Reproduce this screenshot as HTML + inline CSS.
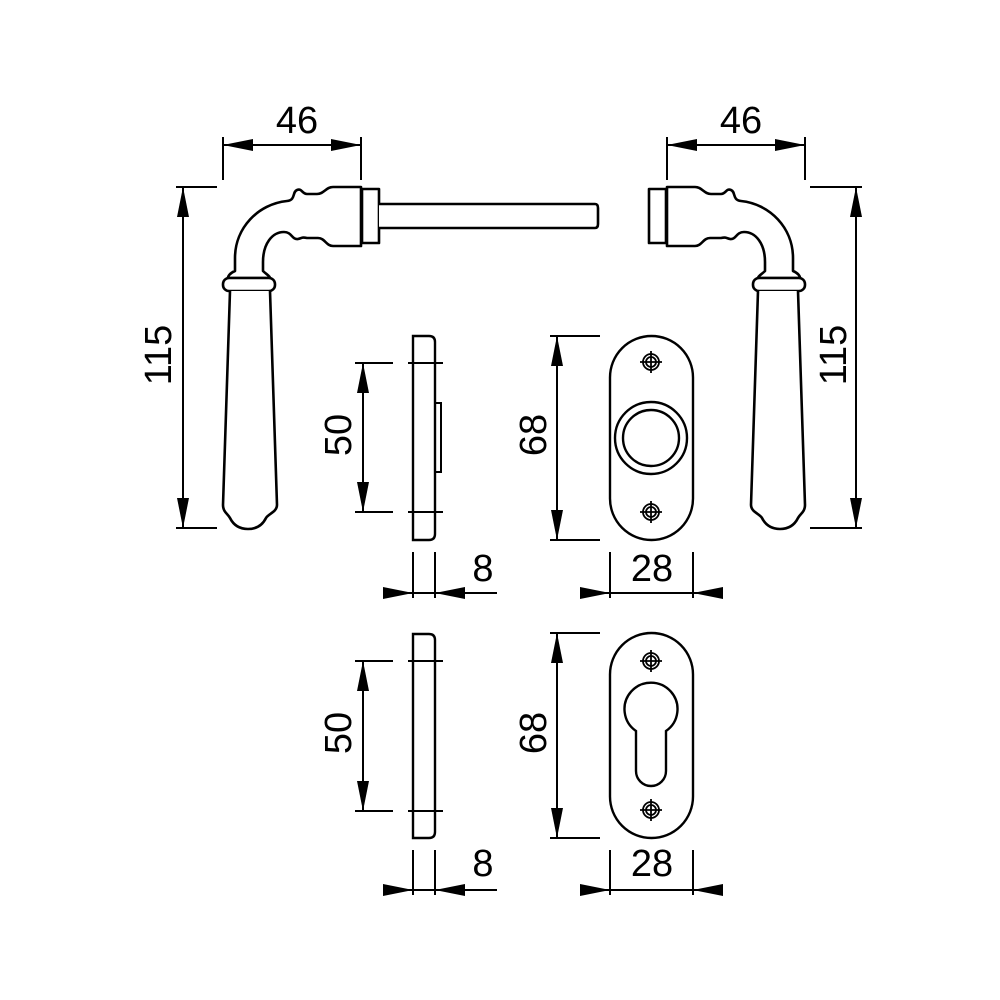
<!DOCTYPE html>
<html><head><style>html,body{margin:0;padding:0;background:#fff}svg{display:block}</style></head>
<body>
<svg width="1000" height="1000" viewBox="0 0 1000 1000" xmlns="http://www.w3.org/2000/svg">
<defs>
<g id="handle" fill="#fff" stroke="#000" stroke-width="2.6" stroke-linejoin="round">
  <path d="M361,187 L333,187 C326,187 324,194 317,194 L307,194 C302,194 302,188 297,190 C292,192 296,200 287,201 C258,204 235,228 235,258 L235,271 C230,273 228,276 228,278 L270,278 C270,276 266,274 263,271 L263,262 C263,244 272,232 284,232 C292,232 292,240 298,239 C302,238 302,237 307,238 L318,238 C325,238 326,246 333,246 L361,246 Z"/>
  <rect x="223" y="278" width="52" height="13" rx="6"/>
  <path d="M230,291 L223,505 C223,512 228,514 230,518 C234,526 240,529 248,529 C256,529 262,526 266,518 C268,514 277,512 277,505 L270,291"/>
  <rect x="362" y="189" width="17" height="54"/>
</g>
<g id="screw" fill="none" stroke="#000" stroke-width="1.8">
  <circle r="8"/><circle r="5"/><line x1="-11" y1="0" x2="11" y2="0"/><line x1="0" y1="-11" x2="0" y2="11"/>
</g>
</defs>

<!-- left handle -->
<use href="#handle"/>
<path d="M379,204 L595,204 Q598,204 598,208 L598,224 Q598,228 595,228 L379,228" fill="#fff" stroke="#000" stroke-width="2.6"/>
<!-- right handle -->
<g transform="translate(1028,0) scale(-1,1)"><use href="#handle"/></g>

<g stroke="#000" stroke-width="2" fill="none">
  <!-- 46 left -->
  <line x1="223" y1="137" x2="223" y2="180"/><line x1="361" y1="137" x2="361" y2="180"/><line x1="223" y1="145" x2="361" y2="145"/>
  <!-- 46 right -->
  <line x1="667" y1="137" x2="667" y2="180"/><line x1="805" y1="137" x2="805" y2="180"/><line x1="667" y1="145" x2="805" y2="145"/>
  <!-- 115 left -->
  <line x1="176" y1="187" x2="217" y2="187"/><line x1="176" y1="528" x2="217" y2="528"/><line x1="183" y1="187" x2="183" y2="528"/>
  <!-- 115 right -->
  <line x1="810" y1="187" x2="862" y2="187"/><line x1="810" y1="528" x2="862" y2="528"/><line x1="856" y1="187" x2="856" y2="528"/>

  <!-- middle side plate -->
  <path d="M413,336 L429,336 Q435,336 435,342 L435,534 Q435,540 429,540 L413,540 Z" fill="#fff" stroke-width="2.4"/>
  <rect x="435" y="403" width="6" height="69" stroke-width="2"/>
  <line x1="408" y1="363" x2="443" y2="363"/><line x1="408" y1="512" x2="443" y2="512"/>
  <line x1="355" y1="363" x2="393" y2="363"/><line x1="355" y1="512" x2="393" y2="512"/><line x1="363" y1="363" x2="363" y2="512"/>
  <line x1="413" y1="552" x2="413" y2="598"/><line x1="435" y1="552" x2="435" y2="598"/><line x1="383" y1="593" x2="497" y2="593"/>
  <!-- middle escutcheon -->
  <line x1="550" y1="336" x2="600" y2="336"/><line x1="550" y1="540" x2="600" y2="540"/><line x1="557" y1="336" x2="557" y2="540"/>
  <rect x="610" y="336" width="83" height="204" rx="41.5" stroke-width="2.4"/>
  <circle cx="651" cy="438" r="36" stroke-width="2.4"/><circle cx="651" cy="438" r="28" stroke-width="2.4"/>
  <line x1="610" y1="552" x2="610" y2="598"/><line x1="693" y1="552" x2="693" y2="598"/><line x1="580" y1="593" x2="723" y2="593"/>

  <!-- bottom side plate -->
  <path d="M413,634 L429,634 Q435,634 435,640 L435,832 Q435,838 429,838 L413,838 Z" fill="#fff" stroke-width="2.4"/>
  <line x1="408" y1="661" x2="443" y2="661"/><line x1="408" y1="811" x2="443" y2="811"/>
  <line x1="355" y1="661" x2="393" y2="661"/><line x1="355" y1="811" x2="393" y2="811"/><line x1="363" y1="661" x2="363" y2="811"/>
  <line x1="413" y1="850" x2="413" y2="895"/><line x1="435" y1="850" x2="435" y2="895"/><line x1="383" y1="890" x2="497" y2="890"/>
  <!-- bottom escutcheon -->
  <line x1="550" y1="633" x2="600" y2="633"/><line x1="550" y1="838" x2="600" y2="838"/><line x1="557" y1="633" x2="557" y2="838"/>
  <rect x="610" y="633" width="83" height="205" rx="41.5" stroke-width="2.4"/>
  <path d="M636,731 A26.5,26.5 0 1 1 666,731 L666,771 A15,15 0 0 1 636,771 Z" stroke-width="2.4"/>
  <line x1="610" y1="850" x2="610" y2="895"/><line x1="693" y1="850" x2="693" y2="895"/><line x1="580" y1="890" x2="723" y2="890"/>
</g>

<use href="#screw" x="651" y="362"/><use href="#screw" x="651" y="512"/>
<use href="#screw" x="651" y="661"/><use href="#screw" x="651" y="810"/>

<g fill="#000">
  <!-- 46 arrows -->
  <polygon points="223,145 253,139 253,151"/><polygon points="361,145 331,139 331,151"/>
  <polygon points="667,145 697,139 697,151"/><polygon points="805,145 775,139 775,151"/>
  <!-- 115 arrows -->
  <polygon points="183,187 177,217 189,217"/><polygon points="183,528 177,498 189,498"/>
  <polygon points="856,187 850,217 862,217"/><polygon points="856,528 850,498 862,498"/>
  <!-- 50 -->
  <polygon points="363,363 357,393 369,393"/><polygon points="363,512 357,482 369,482"/>
  <polygon points="363,661 357,691 369,691"/><polygon points="363,811 357,781 369,781"/>
  <!-- 68 -->
  <polygon points="557,336 551,366 563,366"/><polygon points="557,540 551,510 563,510"/>
  <polygon points="557,633 551,663 563,663"/><polygon points="557,838 551,808 563,808"/>
  <!-- 8 -->
  <polygon points="413,593 383,587 383,599"/><polygon points="435,593 465,587 465,599"/>
  <polygon points="413,890 383,884 383,896"/><polygon points="435,890 465,884 465,896"/>
  <!-- 28 -->
  <polygon points="610,593 580,587 580,599"/><polygon points="693,593 723,587 723,599"/>
  <polygon points="610,890 580,884 580,896"/><polygon points="693,890 723,884 723,896"/>
</g>

<g font-family="Liberation Sans, Arial, sans-serif" font-size="38" fill="#000" text-anchor="middle">
  <text x="297" y="133">46</text>
  <text x="741" y="133">46</text>
  <text x="483" y="581">8</text>
  <text x="652" y="581">28</text>
  <text x="483" y="876">8</text>
  <text x="652" y="876">28</text>
  <text transform="translate(171,355) rotate(-90)">115</text>
  <text transform="translate(846,355) rotate(-90)">115</text>
  <text transform="translate(351,435) rotate(-90)">50</text>
  <text transform="translate(546,435) rotate(-90)">68</text>
  <text transform="translate(351,733) rotate(-90)">50</text>
  <text transform="translate(546,733) rotate(-90)">68</text>
</g>
</svg>
</body></html>
